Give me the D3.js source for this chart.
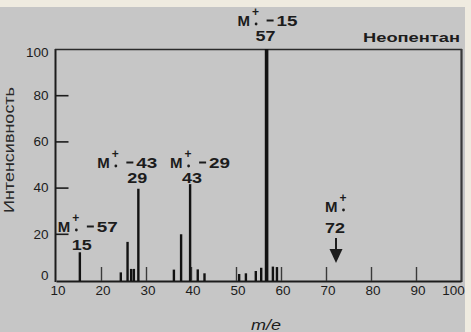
<!DOCTYPE html>
<html><head><meta charset="utf-8">
<script src="https://cdn.jsdelivr.net/npm/d3@7/dist/d3.min.js"></script>
<style>html,body{margin:0;padding:0;background:#c6c6c6;}svg{display:block;}</style>
</head><body>
<svg id="c" width="471" height="332"></svg>
<script>
// ---- data (m/e positions as drawn on the axis, relative intensity %) ----
const peakMz   = [15.3, 24.4, 25.9, 26.7, 27.3, 28.3, 36.2, 37.8, 39.8, 41.5, 43.0, 50.7, 52.2, 54.4, 55.6, 56.8, 58.2, 59.1];
const peakInt  = [12,   3.3,  16.5, 4.8,  4.8,  39.5, 4.5,  19.8, 41.5, 4.6,  2.9,  2.6,  2.9,  3.9,  5.3,  100,  5.8,  5.6];
const xTicks   = [10, 20, 30, 40, 50, 60, 70, 80, 90, 100];
const yTicks   = [0, 20, 40, 60, 80, 100];
const annLoss  = ["57", "43", "29", "15"];
const annIon   = ["15", "29", "43", "57"];
const annMz    = [15.3, 28.3, 39.8, 56.8];
const molIon   = "72";
const molMz    = 72;
const title    = "Неопентан";
const xTitle   = "m/e";
const yTitle   = "Интенсивность";

const svg = d3.select("#c");
const ink = "#1c1c1c";
const x = d3.scaleLinear().domain([10, 100]).range([56, 461]);
const y = d3.scaleLinear().domain([0, 100]).range([280, 49]);

// background
svg.append("rect").attr("width", 471).attr("height", 332).attr("fill", "#c6c6c6");

// frame
svg.append("line").attr("x1", 55.5).attr("x2", 55.5).attr("y1", 49).attr("y2", 282).attr("stroke", ink).attr("stroke-width", 2);
svg.append("line").attr("x1", 55).attr("x2", 462).attr("y1", 49.5).attr("y2", 49.5).attr("stroke", "#2a2a2a").attr("stroke-width", 1.5);
svg.append("line").attr("x1", 461.5).attr("x2", 461.5).attr("y1", 49).attr("y2", 282).attr("stroke", "#3a3a3a").attr("stroke-width", 2.2);

// x axis via d3.axisBottom (ticks inward)
const gx = svg.append("g").attr("transform", "translate(0,281)")
  .call(d3.axisBottom(x).tickValues(xTicks).tickSizeInner(-14).tickSizeOuter(0).tickPadding(6));
gx.select(".domain").attr("stroke", ink).attr("stroke-width", 2.2);
gx.selectAll(".tick line").attr("stroke", "#3a3a3a").attr("stroke-width", 1.4)
  .attr("display", d => (d === 10 || d === 100) ? "none" : null);
gx.selectAll(".tick text").attr("font-family", "Liberation Sans, Arial, sans-serif")
  .attr("font-size", 13.5).attr("fill", ink).attr("dx", d => d === 100 ? -8 : 1.5).attr("dy", "0.6em");

// y axis via d3.axisLeft (ticks inward, labels left)
const gy = svg.append("g").attr("transform", "translate(55.5,0)")
  .call(d3.axisLeft(y).tickValues(yTicks).tickSizeInner(0).tickSizeOuter(0).tickPadding(7));
gy.select(".domain").remove();
gy.selectAll(".tick text").attr("font-family", "Liberation Sans, Arial, sans-serif")
  .attr("font-size", 13.5).attr("fill", ink)
  .attr("dy", d => d === 0 ? "-0.05em" : d === 100 ? "0.55em" : "0.32em");
gy.selectAll(".tick").filter(d => d > 0 && d < 100).append("line")
  .attr("x1", 0).attr("x2", 13).attr("stroke", ink).attr("stroke-width", 1.6);

// peaks
svg.append("g").selectAll("line").data(peakMz).join("line")
  .attr("x1", d => x(d)).attr("x2", d => x(d))
  .attr("y1", 281).attr("y2", (d, i) => y(peakInt[i]))
  .attr("stroke", "#121212")
  .attr("stroke-width", (d, i) => peakInt[i] >= 99 ? 3.6 : 2.4);

// annotation helper: "M +· – nn"
const bold = "Liberation Sans, Arial, sans-serif";
function mIon(g, x0, base, loss) {
  g.append("text").attr("x", x0).attr("y", base).text("M")
    .attr("font-family", bold).attr("font-weight", "bold").attr("font-size", 15).attr("fill", ink);
  g.append("text").attr("x", x0 + 18).attr("y", base - 10).text("+").attr("text-anchor", "middle")
    .attr("font-family", bold).attr("font-weight", "bold").attr("font-size", 12).attr("fill", ink);
  g.append("circle").attr("cx", x0 + 18.5).attr("cy", base - 2).attr("r", 1.4).attr("fill", ink);
  if (loss !== null) {
    g.append("line").attr("x1", x0 + 29).attr("x2", x0 + 36).attr("y1", base - 5.5).attr("y2", base - 5.5)
      .attr("stroke", ink).attr("stroke-width", 2);
    g.append("text").attr("x", x0 + 39).attr("y", base).text(loss).attr("textLength", 21)
      .attr("lengthAdjust", "spacingAndGlyphs")
      .attr("font-family", bold).attr("font-weight", "bold").attr("font-size", 15).attr("fill", ink);
  }
}
function num(g, cx, base, t) {
  g.append("text").attr("x", cx).attr("y", base).text(t).attr("text-anchor", "middle")
    .attr("font-family", bold).attr("font-weight", "bold").attr("font-size", 15).attr("fill", ink)
    .attr("textLength", 20).attr("lengthAdjust", "spacingAndGlyphs");
}
// layout of the fragment labels (pixel offsets / baselines – layout only)
const annLayout = [
  {mx: -22, mb: 232, nx: 2,  nb: 250},
  {mx: -41, mb: 168, nx: -1, nb: 183},
  {mx: -20, mb: 168, nx: 2,  nb: 183},
  {mx: -29, mb: 26,  nx: -1, nb: 41}
];
const ga = svg.append("g");
annMz.forEach((m, i) => {
  const L = annLayout[i];
  mIon(ga, x(m) + L.mx, L.mb, annLoss[i]);
  num(ga, x(m) + L.nx, L.nb, annIon[i]);
});
// molecular ion
const xm = x(molMz);
mIon(ga, xm - 10, 212, null);
num(ga, xm, 233, molIon);
ga.append("line").attr("x1", xm + 1).attr("x2", xm + 1).attr("y1", 238).attr("y2", 251)
  .attr("stroke", ink).attr("stroke-width", 2);
ga.append("path").attr("d", `M${xm - 5.5},249 L${xm + 7.5},249 L${xm + 1},263 Z`).attr("fill", ink);

// title
svg.append("text").attr("x", 460).attr("y", 42).attr("text-anchor", "end").text(title)
  .attr("font-family", bold).attr("font-weight", "bold").attr("font-size", 13.5).attr("fill", ink)
  .attr("textLength", 97).attr("lengthAdjust", "spacingAndGlyphs");

// axis titles
svg.append("text").attr("x", 266).attr("y", 330).attr("text-anchor", "middle").text(xTitle)
  .attr("font-family", "Liberation Sans, Arial, sans-serif").attr("font-style", "italic")
  .attr("font-size", 14).attr("fill", ink).attr("textLength", 30).attr("lengthAdjust", "spacingAndGlyphs");
svg.append("text").attr("transform", "translate(14,150) rotate(-90)").attr("text-anchor", "middle").text(yTitle)
  .attr("font-family", "Liberation Sans, Arial, sans-serif")
  .attr("font-size", 14).attr("fill", "#2a2a2a").attr("textLength", 126).attr("lengthAdjust", "spacingAndGlyphs");

// page border (beige strips at top and right)
svg.append("rect").attr("x", 0).attr("y", 0).attr("width", 471).attr("height", 7).attr("fill", "#efebe0");
svg.append("rect").attr("x", 465).attr("y", 0).attr("width", 6).attr("height", 332).attr("fill", "#efebe0");
</script>
</body></html>
